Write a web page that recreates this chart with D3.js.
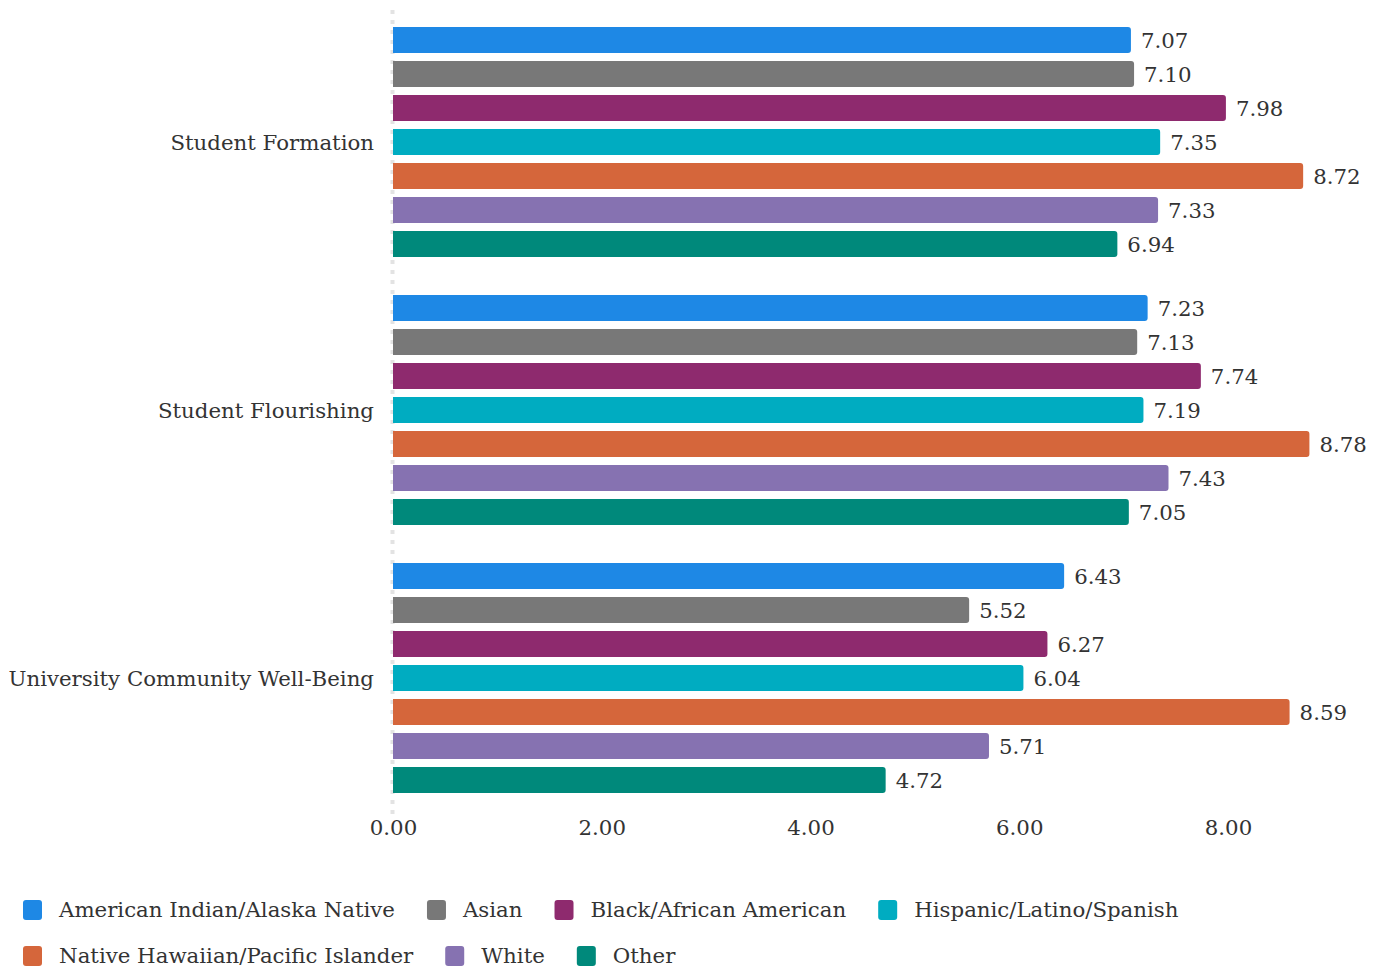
<!DOCTYPE html>
<html>
<head>
<meta charset="utf-8">
<script src="https://cdn.jsdelivr.net/npm/d3@7"></script>
<style>
  body { margin: 0; background: #fff; }
  text { font-family: "DejaVu Serif", Georgia, serif; fill: #333; }
</style>
</head>
<body>
<div id="chart"></div>
<script>
// data
var categories = ["Student Formation", "Student Flourishing", "University Community Well-Being"];
var groups = ["American Indian/Alaska Native", "Asian", "Black/African American",
    "Hispanic/Latino/Spanish", "Native Hawaiian/Pacific Islander", "White", "Other"];
var colors = ["#1e88e5", "#787878", "#8e2a6e", "#00acc1", "#d5663b", "#8672b1", "#00897b"];
var values = [
    [7.07, 7.10, 7.98, 7.35, 8.72, 7.33, 6.94],
    [7.23, 7.13, 7.74, 7.19, 8.78, 7.43, 7.05],
    [6.43, 5.52, 6.27, 6.04, 8.59, 5.71, 4.72]
];
var ticks = [0, 2, 4, 6, 8];

var W = 1379, H = 970;
var fs = "21.3px";
var svg = d3.select("#chart").append("svg")
    .attr("width", W)
    .attr("height", H);

// scales
var x = d3.scaleLinear().domain([0, 8]).range([393, 1228]);
var y0 = d3.scaleBand().domain(categories).range([10, 814]);
var y1 = d3.scaleBand().domain(groups).range([17, 247]).paddingInner(8 / 34);

// dashed baseline
svg.append("line")
    .attr("x1", 392.5).attr("x2", 392.5)
    .attr("y1", 10).attr("y2", 814)
    .attr("stroke", "#e3e3e3")
    .attr("stroke-width", 4)
    .attr("stroke-dasharray", "4,6");

// rounded-right bar path
function barPath(x0, x1, yt, h, r) {
    r = Math.min(r, x1 - x0);
    return "M" + x0 + "," + yt + "H" + (x1 - r) + "Q" + x1 + "," + yt + " " + x1 + "," + (yt + r) +
        "V" + (yt + h - r) + "Q" + x1 + "," + (yt + h) + " " + (x1 - r) + "," + (yt + h) +
        "H" + x0 + "Z";
}

var g = svg.selectAll(".cat")
    .data(categories)
    .enter().append("g")
    .attr("class", "cat")
    .attr("transform", function (d) { return "translate(0," + y0(d) + ")"; });

g.append("text")
    .attr("x", 374)
    .attr("y", y0.bandwidth() / 2 - 1)
    .attr("dy", "0.35em")
    .attr("text-anchor", "end")
    .style("font-size", fs)
    .text(function (d) { return d; });

g.each(function (c, ci) {
    var sel = d3.select(this);
    var rows = groups.map(function (gr, i) { return { group: gr, value: values[ci][i], color: colors[i] }; });
    sel.selectAll("path")
        .data(rows)
        .enter().append("path")
        .attr("fill", function (d) { return d.color; })
        .attr("d", function (d) { return barPath(x(0), x(d.value), y1(d.group), y1.bandwidth(), 3); });
    sel.selectAll(".val")
        .data(rows)
        .enter().append("text")
        .attr("class", "val")
        .attr("x", function (d) { return x(d.value) + 10; })
        .attr("y", function (d) { return y1(d.group) + y1.bandwidth() / 2 + 1; })
        .attr("dy", "0.35em")
        .style("font-size", fs)
        .text(function (d) { return d.value.toFixed(2); });
});

// x axis
var axis = svg.append("g")
    .attr("transform", "translate(0,814)")
    .call(d3.axisBottom(x).tickValues(ticks).tickFormat(d3.format(".2f")).tickSize(0).tickPadding(6));
axis.select(".domain").remove();
axis.selectAll("text")
    .style("font-size", fs)
    .style("font-family", "DejaVu Serif, Georgia, serif")
    .attr("fill", "#333");

// legend
var legendRows = [[0, 1, 2, 3], [4, 5, 6]];
var legendY = [910, 956];
legendRows.forEach(function (row, ri) {
    var lx = 23;
    row.forEach(function (i) {
        var item = svg.append("g").attr("transform", "translate(" + lx + "," + legendY[ri] + ")");
        item.append("rect")
            .attr("x", 0).attr("y", -10)
            .attr("width", 19).attr("height", 20)
            .attr("rx", 3)
            .attr("fill", colors[i]);
        var t = item.append("text")
            .attr("x", 36)
            .attr("dy", "0.35em")
            .style("font-size", fs)
            .text(groups[i]);
        lx += 36 + t.node().getComputedTextLength() + 32;
    });
});
</script>
</body>
</html>
